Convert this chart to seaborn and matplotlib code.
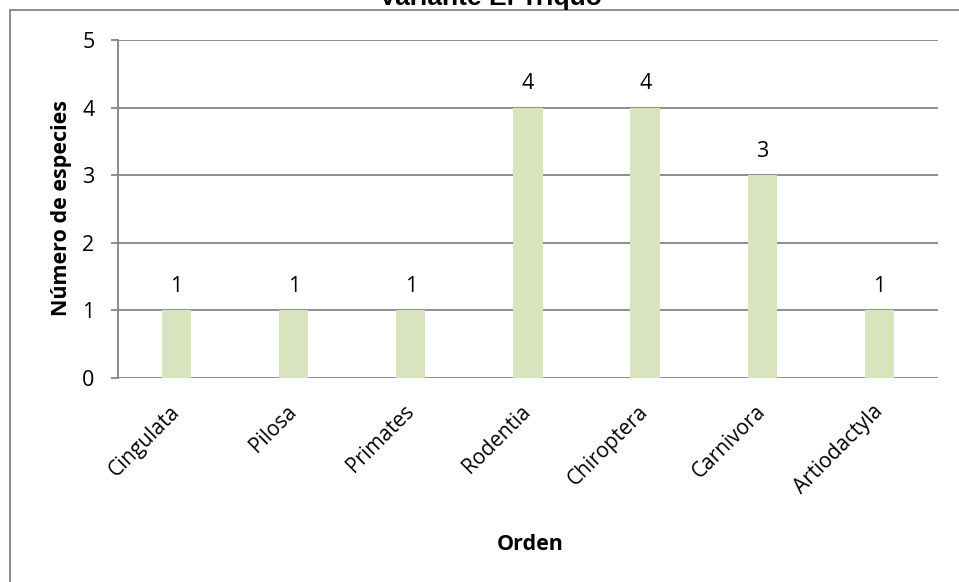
import matplotlib
matplotlib.use("Agg")
import matplotlib.pyplot as plt
import seaborn as sns
import pandas as pd
from matplotlib.patches import Rectangle

categorias = ["Cingulata", "Pilosa", "Primates", "Rodentia", "Chiroptera", "Carnivora", "Artiodactyla"]
especies = [1, 1, 1, 4, 4, 3, 1]
y_ticks = [0, 1, 2, 3, 4, 5]
titulo = "Variante El Triquo"
x_label = "Orden"
y_label = "Número de especies"

sns.set_theme(style="white")
plt.rcParams['font.family'] = ['Open Sans', 'DejaVu Sans']
plt.rcParams['text.color'] = 'black'
plt.rcParams['xtick.color'] = 'black'
plt.rcParams['ytick.color'] = 'black'

W, H = 959, 582
fig = plt.figure(figsize=(W / 100, H / 100), dpi=100)
fig.patch.set_facecolor("white")

# outer chart frame
fig.add_artist(Rectangle((10 / W, -0.05), 1.1, 1 - 10 / H + 0.05, transform=fig.transFigure,
                         fill=False, edgecolor="#868686", linewidth=1.3))

ax = fig.add_axes([118 / W, 1 - 378 / H, 820 / W, 338 / H])
df = pd.DataFrame({"Orden": categorias, "Especies": especies})
sns.barplot(data=df, x="Orden", y="Especies", ax=ax, color="#D7E4BD", width=0.25,
            saturation=1, edgecolor="#D7E4BD", linewidth=0)

ax.set_xlim(-0.5, len(categorias) - 0.5)
ax.set_ylim(0, 5)
ax.set_yticks(y_ticks)
ax.yaxis.grid(True, color="#868686", linewidth=1.3)
ax.set_axisbelow(True)
for s in ["top", "right", "bottom"]:
    ax.spines[s].set_visible(False)
ax.spines["left"].set_color("#868686")
ax.spines["left"].set_linewidth(1.3)
ax.tick_params(axis="y", length=5, width=1.3, color="#868686", labelcolor="black",
               left=True, pad=12, labelsize=15.5)
ax.tick_params(axis="x", length=0, pad=22, labelsize=15, labelcolor="black")
for lbl in ax.get_xticklabels():
    lbl.set_rotation(45)
    lbl.set_ha("right")
    lbl.set_va("center")
    lbl.set_rotation_mode("anchor")

for i, v in enumerate(especies):
    ax.text(i, v + 0.2, str(v), ha="center", va="bottom", fontsize=15.5, color="black")

ax.set_xlabel("")
ax.set_ylabel("")
fig.text(530 / W, 1 - 544 / H, x_label, ha="center", va="center", fontsize=15.5, fontweight="bold")
fig.text(62 / W, 1 - 208 / H, y_label, ha="center", va="center", rotation=90, fontsize=15.5, fontweight="bold")
fig.text(490 / W, 1 - 5 / H, titulo, ha="center", va="baseline", fontsize=19, fontweight="bold",
         family=["Liberation Sans", "DejaVu Sans"])

fig.savefig("out.png", dpi=100, facecolor="white")
